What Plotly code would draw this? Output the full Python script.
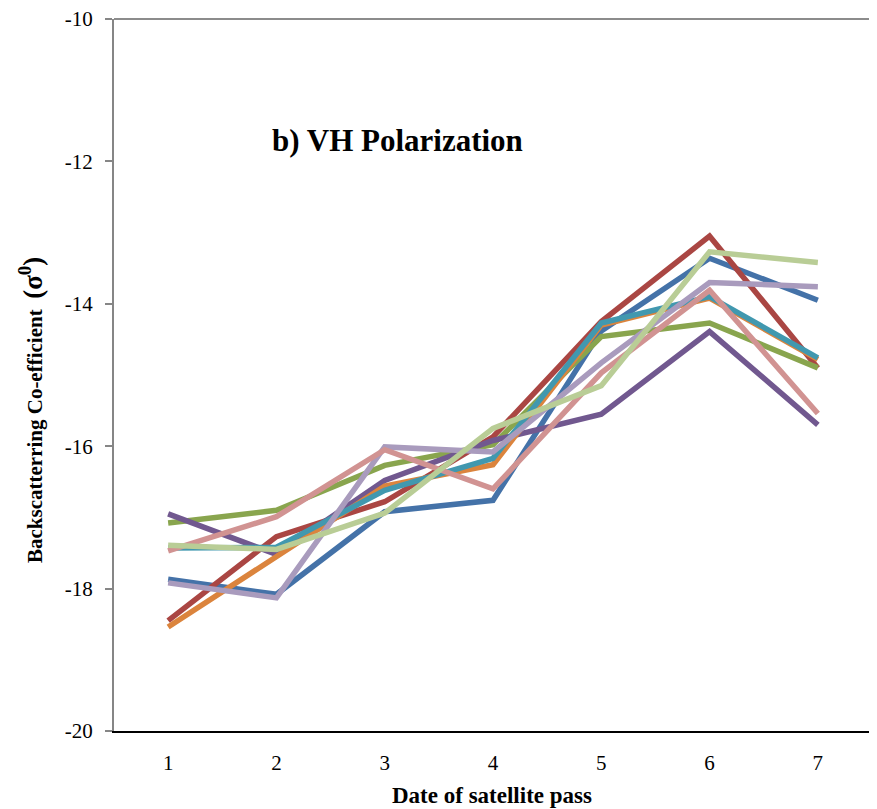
import plotly.graph_objects as go

passes = [1, 2, 3, 4, 5, 6, 7]
y_ticks = [-20, -18, -16, -14, -12, -10]
y_tick_labels = ["-20", "-18", "-16", "-14", "-12", "-10"]

blue = [-17.87, -18.08, -16.92, -16.76, -14.38, -13.36, -13.95]
red = [-18.45, -17.27, -16.78, -15.87, -14.25, -13.05, -14.90]
green = [-17.08, -16.90, -16.27, -15.98, -14.46, -14.27, -14.90]
purple = [-16.95, -17.52, -16.48, -15.92, -15.55, -14.39, -15.70]
orange = [-18.54, -17.55, -16.56, -16.26, -14.30, -13.92, -14.78]
teal = [-17.43, -17.42, -16.62, -16.17, -14.27, -13.90, -14.76]
lavender = [-17.92, -18.13, -16.01, -16.08, -14.83, -13.70, -13.76]
pink = [-17.47, -16.99, -16.05, -16.60, -14.97, -13.81, -15.54]
lightgreen = [-17.39, -17.45, -16.94, -15.75, -15.15, -13.27, -13.42]

series = [
    (blue, "#4472A8"),
    (red, "#AA4643"),
    (green, "#89A54E"),
    (purple, "#71588F"),
    (orange, "#DB843D"),
    (teal, "#4198AF"),
    (lavender, "#A99BBD"),
    (pink, "#D19392"),
    (lightgreen, "#B9CD96"),
]

fig = go.Figure()
for vals, col in series:
    fig.add_trace(go.Scatter(x=passes, y=vals, mode="lines",
                             line=dict(color=col, width=5.5), showlegend=False))

serif = "Liberation Serif, Times New Roman, serif"

# page body has an 8px margin; figure sized so plot area lands where the reference has it
W, H = 869, 801
L, R, T, B = 106, 5, 11, 78
pw, ph = W - L - R, H - T - B


def px(x):
    return (x - 8 - L) / pw


def py(y):
    return 1 - (y - 8 - T) / ph


fig.update_layout(
    width=W, height=H,
    margin=dict(l=L, r=R, t=T, b=B, autoexpand=False),
    plot_bgcolor="white", paper_bgcolor="white",
    font=dict(family=serif, color="black"),
    xaxis=dict(range=[0.5, 7.5], tickvals=passes, ticktext=[str(p) for p in passes],
               showgrid=False, zeroline=False, showline=True, linecolor="black",
               linewidth=1.5, ticks="", ticklabelstandoff=12, automargin=False,
               tickfont=dict(size=21, family=serif, color="black")),
    yaxis=dict(range=[-20, -10], tickvals=y_ticks, ticktext=y_tick_labels,
               showgrid=False, zeroline=False, ticklabeloverflow="allow",
               automargin=False,
               showline=True, linecolor="#868686", linewidth=2, ticks="outside",
               ticklen=7, tickcolor="#868686", tickwidth=1.5, ticklabelstandoff=8,
               tickfont=dict(size=21, family=serif, color="black")),
    shapes=[
        dict(type="line", xref="paper", yref="paper", x0=0, x1=1, y0=1, y1=1,
             line=dict(color="#8C8C8C", width=2)),
        dict(type="line", xref="paper", yref="paper", x0=1, x1=1, y0=0, y1=1,
             line=dict(color="black", width=2)),
    ],
    annotations=[
        dict(text="<b>b) VH Polarization</b>", xref="paper", yref="paper",
             x=px(397), y=py(140), showarrow=False,
             font=dict(size=31, family=serif, color="black"),
             xanchor="center", yanchor="middle"),
        dict(text="<b>Backscatterring Co-efficient  <span style='font-size:27px'>(σ<sup>0</sup>)</span></b>",
             xref="paper", yref="paper", x=px(31), y=py(410),
             textangle=-90, showarrow=False,
             font=dict(size=21, family=serif, color="black"),
             xanchor="center", yanchor="middle"),
        dict(text="<b>Date of satellite pass</b>", xref="paper", yref="paper",
             x=px(492), y=py(795), showarrow=False,
             font=dict(size=23, family=serif, color="black"),
             xanchor="center", yanchor="middle"),
    ],
)

fig.write_html("out.html")
